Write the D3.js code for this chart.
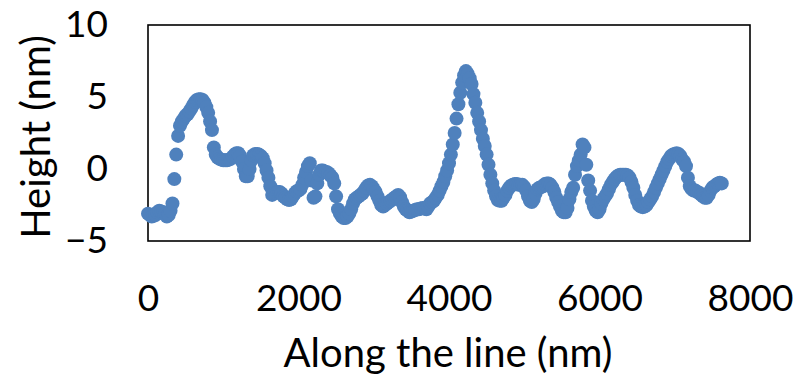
<!DOCTYPE html>
<html>
<head>
<meta charset="utf-8">
<script src="https://cdn.jsdelivr.net/npm/d3@7"></script>
<style>
  html, body { margin: 0; padding: 0; background: #fff; }
  svg { display: block; }
  text { font-family: Lato, "Open Sans", sans-serif; fill: #000; }
</style>
</head>
<body>
<svg id="chart" width="797" height="378"></svg>
<script>
// ---- data ----
const xTicks = [0, 2000, 4000, 6000, 8000];
const yTicks = [-5, 0, 5, 10];
const xTitle = "Along the line (nm)";
const yTitle = "Height (nm)";

const distance = [
  0,25,50,75,100,125,150,175,200,225,250,275,300,325,350,375,400,425,450,475,
  500,525,550,575,600,625,650,675,700,725,750,775,800,825,850,875,900,925,950,975,
  1000,1025,1050,1075,1100,1125,1150,1175,1200,1225,1250,1275,1300,1325,1350,1375,1400,1425,1450,1475,
  1500,1525,1550,1575,1600,1625,1650,1675,1700,1725,1750,1775,1800,1825,1850,1875,1900,1925,1950,1975,
  2000,2025,2050,2075,2100,2125,2150,2175,2200,2225,2250,2275,2300,2325,2350,2375,2400,2425,2450,2475,
  2500,2525,2550,2575,2600,2625,2650,2675,2700,2725,2750,2775,2800,2825,2850,2875,2900,2925,2950,2975,
  3000,3025,3050,3075,3100,3125,3150,3175,3200,3225,3250,3275,3300,3325,3350,3375,3400,3425,3450,3475,
  3500,3525,3550,3575,3600,3625,3650,3675,3700,3725,3750,3775,3800,3825,3850,3875,3900,3925,3950,3975,
  4000,4025,4050,4075,4100,4125,4150,4175,4200,4225,4250,4275,4300,4325,4350,4375,4400,4425,4450,4475,
  4500,4525,4550,4575,4600,4625,4650,4675,4700,4725,4750,4775,4800,4825,4850,4875,4900,4925,4950,4975,
  5000,5025,5050,5075,5100,5125,5150,5175,5200,5225,5250,5275,5300,5325,5350,5375,5400,5425,5450,5475,
  5500,5525,5550,5575,5600,5625,5650,5675,5700,5725,5750,5775,5800,5825,5850,5875,5900,5925,5950,5975,
  6000,6025,6050,6075,6100,6125,6150,6175,6200,6225,6250,6275,6300,6325,6350,6375,6400,6425,6450,6475,
  6500,6525,6550,6575,6600,6625,6650,6675,6700,6725,6750,6775,6800,6825,6850,6875,6900,6925,6950,6975,
  7000,7025,7050,7075,7100,7125,7150,7175,7200,7225,7250,7275,7300,7325,7350,7375,7400,7425,7450,7475,
  7500,7525,7550,7575,7600,7625
];

const height = [
  -3.1,-3.2,-3.3,-3.25,-3.2,-3.0,-2.9,-2.95,-3.0,-3.15,-3.3,-3.2,-2.9,-2.4,-0.7,1.0,2.3,3.0,3.3,3.5,
  3.7,3.8,4.0,4.2,4.45,4.65,4.8,4.85,4.85,4.8,4.6,4.3,3.9,3.3,2.7,1.5,1.0,0.8,0.7,0.65,
  0.6,0.6,0.6,0.65,0.7,0.85,1.0,1.1,1.1,0.9,0.5,0.0,-0.5,-0.5,0.0,0.6,0.95,1.05,1.05,1.0,
  0.9,0.75,0.4,-0.1,-0.6,-1.2,-1.8,-1.7,-1.65,-1.6,-1.6,-1.7,-1.9,-2.0,-2.1,-2.15,-2.1,-1.9,-1.7,-1.55,
  -1.5,-1.4,-1.1,-0.6,-0.2,0.2,0.4,-0.8,-2.0,-1.9,-1.0,-0.4,-0.1,-0.1,-0.2,-0.2,-0.3,-0.45,-0.6,-1.0,
  -1.9,-2.8,-3.1,-3.3,-3.4,-3.4,-3.3,-3.1,-2.8,-2.4,-2.1,-2.0,-1.9,-1.8,-1.7,-1.5,-1.3,-1.15,-1.1,-1.2,
  -1.4,-1.6,-1.9,-2.2,-2.5,-2.6,-2.5,-2.4,-2.3,-2.2,-2.1,-2.0,-1.9,-1.8,-1.95,-2.3,-2.6,-2.8,-2.9,-3.0,
  -2.95,-2.9,-2.85,-2.8,-2.8,-2.75,-2.7,-2.75,-2.8,-2.6,-2.4,-2.3,-2.2,-2.0,-1.8,-1.5,-1.2,-0.9,-0.5,-0.1,
  0.4,1.0,1.7,2.5,3.5,4.5,5.3,6.0,6.5,6.8,6.6,6.3,5.9,5.2,4.6,3.9,3.3,2.7,2.1,1.6,
  1.0,0.3,-0.4,-1.0,-1.5,-1.9,-2.15,-2.2,-2.2,-2.0,-1.8,-1.5,-1.3,-1.15,-1.1,-1.05,-1.05,-1.1,-1.1,-1.1,
  -1.25,-1.5,-1.9,-2.2,-2.3,-2.1,-1.7,-1.4,-1.3,-1.25,-1.2,-1.05,-1.0,-1.0,-1.1,-1.3,-1.6,-2.0,-2.3,-2.6,
  -2.9,-3.0,-3.0,-2.7,-2.1,-1.6,-1.3,-0.4,0.2,0.6,1.0,1.7,1.5,0.3,-0.8,-1.5,-2.2,-2.6,-2.9,-3.0,
  -2.8,-2.4,-2.1,-1.9,-1.7,-1.4,-1.1,-0.9,-0.7,-0.55,-0.45,-0.4,-0.4,-0.4,-0.4,-0.45,-0.6,-0.9,-1.3,-1.8,
  -2.2,-2.5,-2.6,-2.65,-2.6,-2.5,-2.3,-2.1,-1.9,-1.6,-1.3,-1.0,-0.7,-0.4,-0.1,0.2,0.5,0.7,0.9,1.0,
  1.05,1.1,1.05,0.9,0.65,0.5,0.2,-0.6,-1.2,-1.4,-1.5,-1.5,-1.6,-1.65,-1.8,-1.9,-2.0,-2.0,-1.8,-1.5,
  -1.3,-1.2,-1.1,-1.0,-0.95,-1.0
];

// ---- drawing ----
const svg = d3.select("#chart");
const plot = { left: 148, right: 750, top: 25, bottom: 241 };

const x = d3.scaleLinear().domain([0, 8000]).range([plot.left, plot.right]);
const y = d3.scaleLinear().domain([-5, 10]).range([plot.bottom, plot.top]);

// plot border
svg.append("rect")
  .attr("x", plot.left).attr("y", plot.top)
  .attr("width", plot.right - plot.left).attr("height", plot.bottom - plot.top)
  .attr("fill", "none").attr("stroke", "#000").attr("stroke-width", 1.6);

// x axis labels
const gx = svg.append("g")
  .attr("transform", `translate(0,${plot.bottom})`)
  .call(d3.axisBottom(x).tickValues(xTicks).tickSize(0).tickPadding(44).tickFormat(d3.format("d")));
gx.select(".domain").remove();
gx.selectAll("text").style("font-size", "37px").style("font-family", "Lato, sans-serif").attr("fill", "#000");

// y axis labels
const gy = svg.append("g")
  .attr("transform", `translate(${plot.left},0)`)
  .call(d3.axisLeft(y).tickValues(yTicks).tickSize(0).tickPadding(40).tickFormat(d3.format("d")));
gy.select(".domain").remove();
gy.selectAll("text").style("font-size", "37px").style("font-family", "Lato, sans-serif").attr("fill", "#000");

// titles
svg.append("text")
  .attr("x", 448).attr("y", 367)
  .attr("text-anchor", "middle")
  .style("font-size", "40px")
  .text(xTitle);

svg.append("text")
  .attr("transform", "translate(50,137) rotate(-90)")
  .attr("text-anchor", "middle")
  .style("font-size", "40px")
  .text(yTitle);

// markers
const pts = distance.map((d, i) => ({ d, h: height[i] }));
svg.append("g")
  .selectAll("circle")
  .data(pts)
  .join("circle")
  .attr("cx", p => x(p.d))
  .attr("cy", p => y(p.h))
  .attr("r", 7)
  .attr("fill", "#4f81bd");
</script>
</body>
</html>
